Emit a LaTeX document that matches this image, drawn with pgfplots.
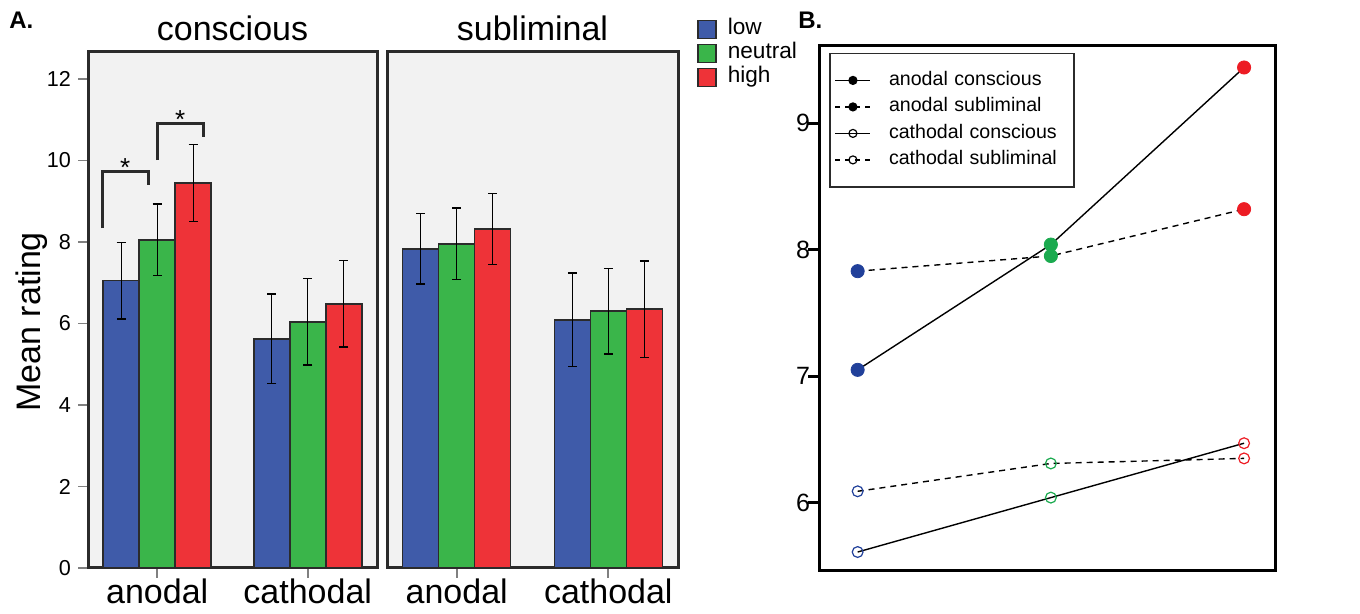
\documentclass[border=0pt]{standalone}
\usepackage{pgfplots}
\pgfplotsset{compat=1.18}
\usepackage{fontspec}
\setmainfont{Liberation Sans}
\definecolor{cBlue}{HTML}{3F5BA9}
\definecolor{cGreen}{HTML}{3AB54A}
\definecolor{cRed}{HTML}{EE3338}
\definecolor{bBlue}{HTML}{21409A}
\definecolor{bGreen}{HTML}{1BAA4F}
\definecolor{bRed}{HTML}{ED1C24}
\definecolor{panelbg}{HTML}{F2F2F2}
\definecolor{edge}{HTML}{2B2B2B}
\pgfplotsset{
  barA/.style={
    scale only axis, width=144.5pt, height=258pt, anchor=south west,
    ybar=0pt, bar width=18pt,
    xmin=-0.46, xmax=1.46, ymin=0, ymax=12.66,
    axis background/.style={fill=panelbg},
    axis line style={line width=1.5pt, draw=edge},
    xtick={0,1}, xticklabels={anodal,cathodal},
    tick align=outside, xtick pos=bottom, ytick pos=left,
    major tick length=5pt, tick style={line width=0.8pt, color=gray},
    xticklabel style={font=\fontsize{17}{20}\selectfont, anchor=base, yshift=-13pt},
    yticklabel style={font=\fontsize{10.8}{12}\selectfont},
    title style={font=\fontsize{17}{20}\selectfont, at={(0.5,1)}, anchor=base, yshift=-0.5pt},
    /pgf/number format/assume math mode=true,
    error bars/y dir=both, error bars/y explicit,
    error bars/error bar style={line width=0.6pt, black},
    error bars/error mark options={rotate=90, mark size=2.25pt, line width=0.6pt, black},
  },
  barstyle/.style={fill=#1, draw=edge, line width=0.75pt},
}
\begin{document}
\begin{tikzpicture}
\useasboundingbox (0,0) rectangle (680pt,307pt);
\node[anchor=base west, inner sep=0pt, font=\fontsize{12}{14}\selectfont\bfseries] at (4.5pt,292.5pt) {A.};
\node[anchor=base west, inner sep=0pt, font=\fontsize{12}{14}\selectfont\bfseries] at (399pt,292.5pt) {B.};

% ---- conscious
\begin{axis}[barA, at={(44pt,23pt)}, title={conscious},
  ytick={0,2,4,6,8,10,12},
  ylabel={Mean rating},
  ylabel style={font=\fontsize{17}{20}\selectfont, at={(rel axis cs:-0.166,0.477)}, anchor=base}]
\addplot[barstyle=cBlue] coordinates {(0,7.05) +- (0,0.94) (1,5.62) +- (0,1.10)};
\addplot[barstyle=cGreen] coordinates {(0,8.05) +- (0,0.88) (1,6.04) +- (0,1.06)};
\addplot[barstyle=cRed] coordinates {(0,9.45) +- (0,0.95) (1,6.48) +- (0,1.06)};
\draw[line width=1.5pt, edge] (axis cs:-0.362,8.34) -- (axis cs:-0.362,9.74) -- (axis cs:-0.06,9.74) -- (axis cs:-0.06,9.40);
\draw[line width=1.5pt, edge] (axis cs:0,10.01) -- (axis cs:0,10.90) -- (axis cs:0.307,10.90) -- (axis cs:0.307,10.58);
\node[anchor=base, inner sep=0pt, font=\fontsize{13}{14}\selectfont] at (axis cs:-0.213,9.60) {*};
\node[anchor=base, inner sep=0pt, font=\fontsize{13}{14}\selectfont] at (axis cs:0.153,10.78) {*};
\end{axis}

% ---- subliminal
\begin{axis}[barA, at={(193.5pt,23pt)}, width=145.5pt, title={subliminal},
  ytick=\empty,
  legend image code/.code={\draw[#1] (0pt,-4.5pt) rectangle (9pt,4.5pt);},
  legend cell align=left,
  legend style={at={(rel axis cs:1.065,1.065)}, anchor=north west, draw=none, fill=none,
    inner sep=0pt, row sep=1.5pt, column sep=5.5pt,
    nodes={inner sep=0pt, text height=8pt, text depth=2.5pt, font=\fontsize{11.3}{13}\selectfont}}]
\addplot[barstyle=cBlue] coordinates {(0,7.83) +- (0,0.86) (1,6.09) +- (0,1.15)};
\addlegendentry{low}
\addplot[barstyle=cGreen] coordinates {(0,7.95) +- (0,0.88) (1,6.30) +- (0,1.05)};
\addlegendentry{neutral}
\addplot[barstyle=cRed] coordinates {(0,8.32) +- (0,0.87) (1,6.35) +- (0,1.18)};
\addlegendentry{high}
\end{axis}

% ---- panel B
\begin{axis}[at={(409.5pt,21.5pt)}, anchor=south west, scale only axis,
  width=228pt, height=262.5pt,
  xmin=0.8, xmax=3.16, ymin=5.46, ymax=9.61,
  xtick=\empty, ytick={6,7,8,9}, ytick pos=left, tick align=outside,
  major tick length=5.5pt, tick style={line width=1.5pt, black},
  axis line style={line width=1.5pt, black},
  yticklabel style={font=\fontsize{12.5}{14}\selectfont, xshift=4.5pt},
  /pgf/number format/assume math mode=true,
  legend image code/.code={\draw[mark repeat=2, mark phase=2, #1] plot coordinates {(0pt,0pt) (8.75pt,0pt) (17.5pt,0pt)};},
  legend cell align=left,
  legend style={at={(rel axis cs:0.022,0.987)}, anchor=north west, draw=edge, line width=0.8pt,
    inner xsep=2.5pt, inner ysep=8.4pt, row sep=3.25pt, column sep=9pt,
    nodes={inner sep=0pt, text height=7.5pt, text depth=2.5pt, font=\fontsize{9.8}{12}\selectfont},
    /tikz/column 2/.style={nodes={text width=90pt}}},
  ]
\addlegendimage{black, line width=0.6pt, mark=*, mark size=2pt}
\addlegendentry{anodal conscious}
\addlegendimage{black, line width=0.6pt, dash pattern=on 2.5pt off 2.5pt, mark=*, mark size=2pt, mark options={solid}}
\addlegendentry{anodal subliminal}
\addlegendimage{black, line width=0.6pt, mark=o, mark size=2pt}
\addlegendentry{cathodal conscious}
\addlegendimage{black, line width=0.6pt, dash pattern=on 2.5pt off 2.5pt, mark=o, mark size=2pt, mark options={solid}}
\addlegendentry{cathodal subliminal}
% lines
\addplot[black, line width=0.7pt, forget plot] coordinates {(1,7.05) (2,8.04) (3,9.44)};
\addplot[black, line width=0.7pt, dash pattern=on 3pt off 2.5pt, forget plot] coordinates {(1,7.83) (2,7.95) (3,8.32)};
\addplot[black, line width=0.7pt, forget plot] coordinates {(1,5.61) (2,6.04) (3,6.47)};
\addplot[black, line width=0.7pt, dash pattern=on 3pt off 2.5pt, forget plot] coordinates {(1,6.09) (2,6.31) (3,6.35)};
% markers
\addplot[only marks, scatter, scatter src=explicit symbolic, mark size=3.3pt, forget plot,
  scatter/classes={l={mark=*, bBlue}, n={mark=*, bGreen}, h={mark=*, bRed}}]
  coordinates {(1,7.05) [l] (2,8.04) [n] (3,9.44) [h] (1,7.83) [l] (2,7.95) [n] (3,8.32) [h]};
\addplot[only marks, scatter, scatter src=explicit symbolic, mark size=2.7pt, line width=0.6pt, forget plot,
  scatter/classes={l={mark=o, bBlue}, n={mark=o, bGreen}, h={mark=o, bRed}}]
  coordinates {(1,5.61) [l] (2,6.04) [n] (3,6.47) [h] (1,6.09) [l] (2,6.31) [n] (3,6.35) [h]};
\end{axis}
\end{tikzpicture}
\end{document}
